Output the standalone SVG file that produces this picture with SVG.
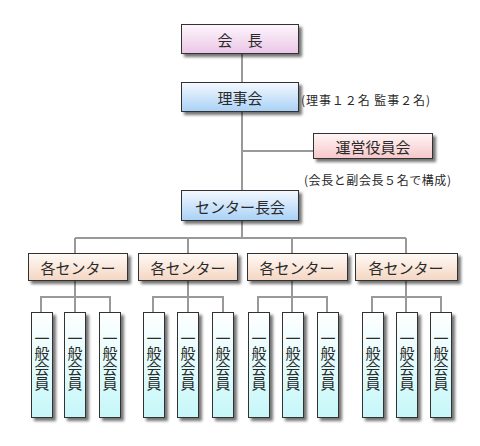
<svg xmlns="http://www.w3.org/2000/svg" width="480" height="446" viewBox="0 0 480 446">
<defs>
<linearGradient id="gPink" x1="0" y1="0" x2="0" y2="1"><stop offset="0" stop-color="#fdf6fc"/><stop offset="1" stop-color="#ebc6e6"/></linearGradient>
<linearGradient id="gBlue" x1="0" y1="0" x2="0" y2="1"><stop offset="0" stop-color="#f4f9ff"/><stop offset="1" stop-color="#a9d1f6"/></linearGradient>
<linearGradient id="gRose" x1="0" y1="0" x2="0" y2="1"><stop offset="0" stop-color="#fff6f6"/><stop offset="1" stop-color="#f6c7c9"/></linearGradient>
<linearGradient id="gPeach" x1="0" y1="0" x2="0" y2="1"><stop offset="0" stop-color="#fffaf6"/><stop offset="1" stop-color="#f4d6c2"/></linearGradient>
<linearGradient id="gCyan" x1="0" y1="0" x2="0" y2="1"><stop offset="0" stop-color="#ffffff"/><stop offset="1" stop-color="#c6f7f9"/></linearGradient>
<filter id="sh" x="-20%" y="-20%" width="150%" height="150%">
<feGaussianBlur in="SourceAlpha" stdDeviation="1.6"/>
<feOffset dx="3" dy="3" result="b"/>
<feComponentTransfer><feFuncA type="linear" slope="0.55"/></feComponentTransfer>
<feMerge><feMergeNode/><feMergeNode in="SourceGraphic"/></feMerge>
</filter>
<style>
.box{stroke:#333;stroke-width:1;filter:url(#sh)}
.t{font-family:"Noto Sans CJK JP","Noto Sans",sans-serif;font-size:15px;fill:#2a2a2a;text-anchor:middle;dominant-baseline:central}
.n{font-family:"Noto Sans CJK JP","Noto Sans",sans-serif;font-size:12px;fill:#2a2a2a;dominant-baseline:central}
.v{font-family:"Noto Sans CJK JP","Noto Sans",sans-serif;font-size:15px;fill:#2a2a2a;text-anchor:middle;writing-mode:vertical-rl;dominant-baseline:central}
.ln{stroke:#999;stroke-width:2;fill:none}
</style>
</defs>
<g id="connectors">
<path class="ln" d="M242 53V238M242 151H313M75 238H406M75 238V253M188 238V253M292 238V253M406 238V253"/>
<path class="ln" d="M75 280V297M41 312V297H110V312M75 297V312"/>
<path class="ln" d="M188 280V297M153 312V297H223V312M188 297V312"/>
<path class="ln" d="M292 280V297M258 312V297H327V312M292 297V312"/>
<path class="ln" d="M406 280V297M372 312V297H441V312M406 297V312"/>
</g>
<g id="kaicho"><rect class="box" x="181.5" y="24.5" width="117" height="29" fill="url(#gPink)"/><text class="t" x="240" y="39">会　長</text></g>
<g id="rijikai"><rect class="box" x="181.5" y="82.5" width="117" height="29" fill="url(#gBlue)"/><text class="t" x="240" y="97">理事会</text></g>
<text id="note1" class="n" x="301" y="99" textLength="129" lengthAdjust="spacing">(理事１２名 監事２名)</text>
<g id="unei"><rect class="box" x="313.5" y="133.5" width="119" height="25" fill="url(#gRose)"/><text class="t" x="373" y="146">運営役員会</text></g>
<text id="note2" class="n" x="304" y="179" textLength="147" lengthAdjust="spacing">(会長と副会長５名で構成)</text>
<g id="centerchokai"><rect class="box" x="181.5" y="190.5" width="117" height="30" fill="url(#gBlue)"/><text class="t" x="240" y="206">センター長会</text></g>
<g id="c1"><rect class="box" x="28.5" y="253.5" width="99" height="27" fill="url(#gPeach)"/><text class="t" x="78" y="267">各センター</text></g>
<g id="c2"><rect class="box" x="138.5" y="253.5" width="99" height="27" fill="url(#gPeach)"/><text class="t" x="188" y="267">各センター</text></g>
<g id="c3"><rect class="box" x="247.5" y="253.5" width="100" height="27" fill="url(#gPeach)"/><text class="t" x="297" y="267">各センター</text></g>
<g id="c4"><rect class="box" x="355.5" y="253.5" width="102" height="27" fill="url(#gPeach)"/><text class="t" x="406" y="267">各センター</text></g>
<g id="m1"><rect class="box" x="31.5" y="312.5" width="21" height="105" fill="url(#gCyan)"/><text class="v" x="42" y="361">一般会員</text></g>
<g id="m2"><rect class="box" x="64.5" y="312.5" width="21" height="105" fill="url(#gCyan)"/><text class="v" x="75" y="361">一般会員</text></g>
<g id="m3"><rect class="box" x="99.5" y="312.5" width="21" height="105" fill="url(#gCyan)"/><text class="v" x="110" y="361">一般会員</text></g>
<g id="m4"><rect class="box" x="143.5" y="312.5" width="21" height="105" fill="url(#gCyan)"/><text class="v" x="154" y="361">一般会員</text></g>
<g id="m5"><rect class="box" x="177.5" y="312.5" width="21" height="105" fill="url(#gCyan)"/><text class="v" x="188" y="361">一般会員</text></g>
<g id="m6"><rect class="box" x="212.5" y="312.5" width="21" height="105" fill="url(#gCyan)"/><text class="v" x="223" y="361">一般会員</text></g>
<g id="m7"><rect class="box" x="248.5" y="312.5" width="21" height="105" fill="url(#gCyan)"/><text class="v" x="259" y="361">一般会員</text></g>
<g id="m8"><rect class="box" x="282.5" y="312.5" width="21" height="105" fill="url(#gCyan)"/><text class="v" x="293" y="361">一般会員</text></g>
<g id="m9"><rect class="box" x="317.5" y="312.5" width="21" height="105" fill="url(#gCyan)"/><text class="v" x="328" y="361">一般会員</text></g>
<g id="m10"><rect class="box" x="362.5" y="312.5" width="21" height="105" fill="url(#gCyan)"/><text class="v" x="373" y="361">一般会員</text></g>
<g id="m11"><rect class="box" x="396.5" y="312.5" width="21" height="105" fill="url(#gCyan)"/><text class="v" x="407" y="361">一般会員</text></g>
<g id="m12"><rect class="box" x="430.5" y="312.5" width="21" height="105" fill="url(#gCyan)"/><text class="v" x="441" y="361">一般会員</text></g>
</svg>
